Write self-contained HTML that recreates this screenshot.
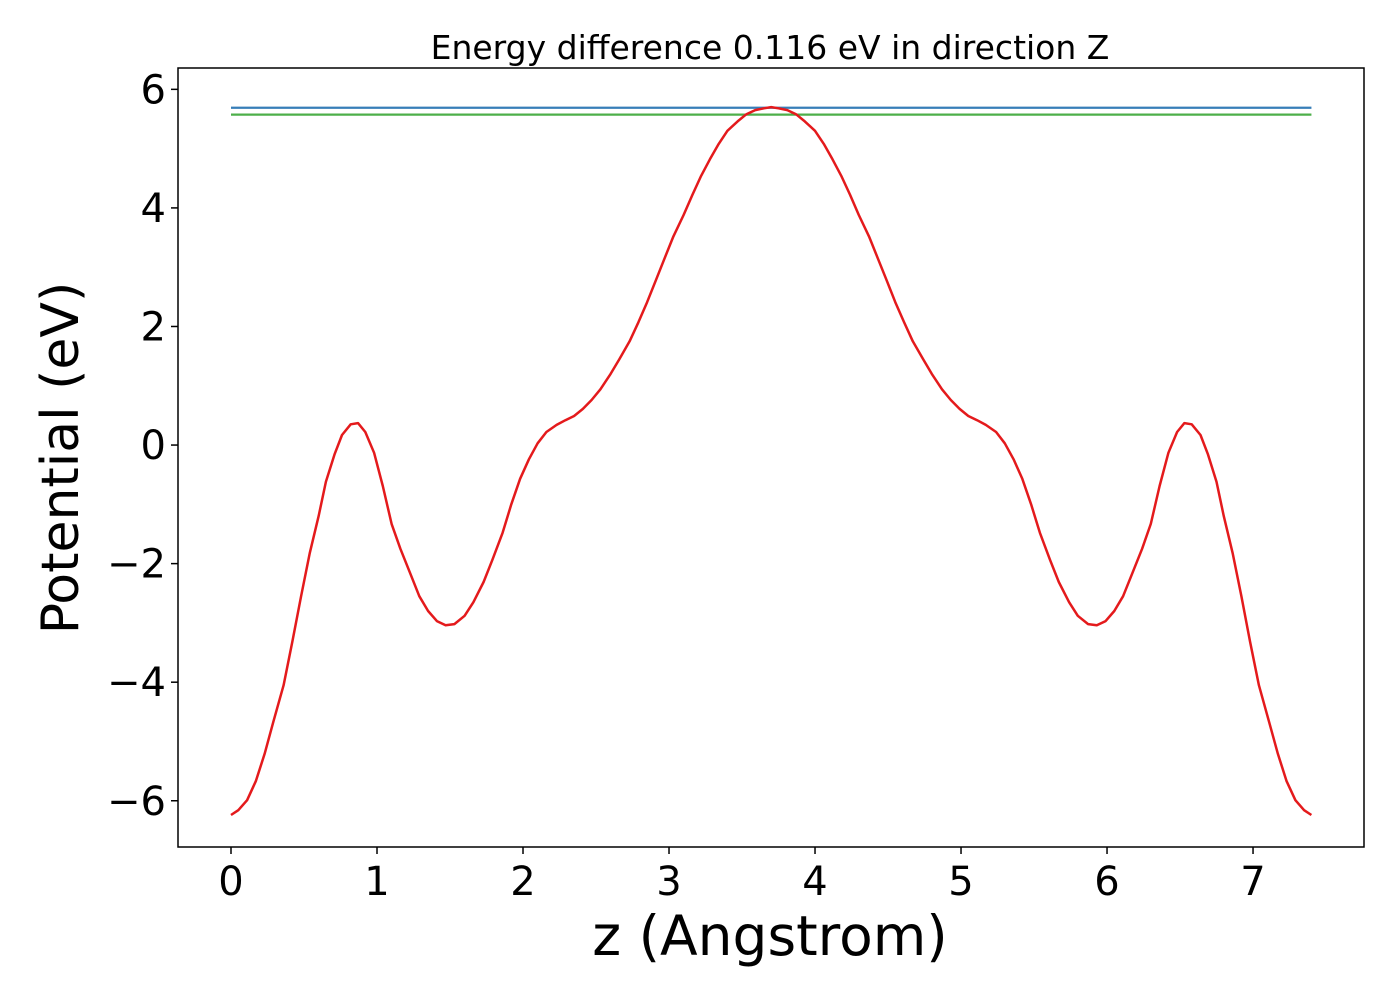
<!DOCTYPE html>
<html><head><meta charset="utf-8"><style>
html,body{margin:0;padding:0;background:#fff;}
svg{display:block;font-family:"DejaVu Sans","Liberation Sans",sans-serif;}
</style></head><body>
<svg id="chart" width="1400" height="1000" viewBox="0 0 1400 1000">
<rect width="1400" height="1000" fill="#fff"/>
<text x="770" y="59" font-size="33" text-anchor="middle" fill="#000">Energy difference 0.116 eV in direction Z</text>
<g id="plot"></g>
<text x="770" y="955" font-size="55" text-anchor="middle" fill="#000">z (Angstrom)</text>
<text transform="translate(78,458) rotate(-90)" font-size="52" text-anchor="middle" fill="#000">Potential (eV)</text>
</svg>
<script>
const xTicks=[0,1,2,3,4,5,6,7];
const yTicks=[6,4,2,0,-2,-4,-6];
const xTickLabels=["0","1","2","3","4","5","6","7"];
const yTickLabels=["6","4","2","0","\u22122","\u22124","\u22126"];
const leftZ=[0,0.05,0.11,0.17,0.23,0.29,0.36,0.42,0.48,0.54,0.60,0.65,0.71,0.76,0.82,0.87,0.92,0.98,1.04,1.10,1.16,1.23,1.29,1.35,1.41,1.47,1.53,1.60,1.66,1.73,1.79,1.86,1.92,1.98,2.04,2.10,2.16,2.23,2.29,2.35,2.41,2.47,2.53,2.60,2.66,2.73,2.79,2.85,2.91,2.97,3.03,3.10,3.16,3.22,3.28,3.34,3.40,3.47,3.53,3.59,3.65,3.70];
const leftV=[-6.24,-6.16,-5.99,-5.67,-5.21,-4.67,-4.05,-3.32,-2.55,-1.82,-1.2,-0.62,-0.15,0.17,0.35,0.37,0.22,-0.13,-0.69,-1.33,-1.75,-2.18,-2.55,-2.80,-2.97,-3.04,-3.02,-2.88,-2.65,-2.31,-1.94,-1.48,-1.0,-0.57,-0.24,0.03,0.22,0.34,0.42,0.49,0.61,0.76,0.94,1.20,1.45,1.75,2.07,2.41,2.78,3.15,3.52,3.88,4.22,4.54,4.82,5.08,5.30,5.46,5.58,5.65,5.68,5.70];
const zEnd=7.40;
const barrierTop=5.69;
const referenceLevel=5.574;

const X0=178,X1=1364,Y0=68,Y1=847;
const xMin=-0.363,xMax=7.760,yMin=-6.78,yMax=6.36;
const sx=v=>X0+(v-xMin)/(xMax-xMin)*(X1-X0);
const sy=v=>Y1-(v-yMin)/(yMax-yMin)*(Y1-Y0);
const NS="http://www.w3.org/2000/svg";
const g=document.getElementById('plot');
function mk(t,a){const e=document.createElementNS(NS,t);for(const k in a)e.setAttribute(k,a[k]);g.appendChild(e);return e;}

// curve points
const zs=[],vs=[];
for(let i=0;i<leftZ.length;i++){zs.push(leftZ[i]);vs.push(leftV[i]);}
for(let i=leftZ.length-2;i>=0;i--){zs.push(zEnd-leftZ[i]);vs.push(leftV[i]);}

const l1=mk('line',{x1:sx(0),x2:sx(zEnd),y1:sy(barrierTop),y2:sy(barrierTop),stroke:'#377eb8','stroke-width':2.2});


const l2=mk('line',{x1:sx(0),x2:sx(zEnd),y1:sy(referenceLevel),y2:sy(referenceLevel),stroke:'#4daf4a','stroke-width':2.2});


const pc=mk('polyline',{points:zs.map((z,i)=>sx(z).toFixed(1)+','+sy(vs[i]).toFixed(1)).join(' '),fill:'none',stroke:'#e41a1c','stroke-width':2.5,'stroke-linejoin':'round'});



const fr=mk('rect',{x:X0,y:Y0,width:X1-X0,height:Y1-Y0,fill:'none',stroke:'#000','stroke-width':1.5});



xTicks.forEach((t,i)=>{
  const tk=mk('line',{x1:sx(t),x2:sx(t),y1:Y1,y2:Y1+7,stroke:'#000','stroke-width':1.5});
  
  
  const tx=mk('text',{x:sx(t),y:Y1+48,'font-size':40,'text-anchor':'middle',fill:'#000'});
  tx.textContent=xTickLabels[i];
  
  
});
yTicks.forEach((t,i)=>{
  const tk=mk('line',{x1:X0-7,x2:X0,y1:sy(t),y2:sy(t),stroke:'#000','stroke-width':1.5});
  
  
  const tx=mk('text',{x:X0-12,y:sy(t)+14,'font-size':40,'text-anchor':'end',fill:'#000'});
  tx.textContent=yTickLabels[i];
  
  
});
</script>
</body></html>
